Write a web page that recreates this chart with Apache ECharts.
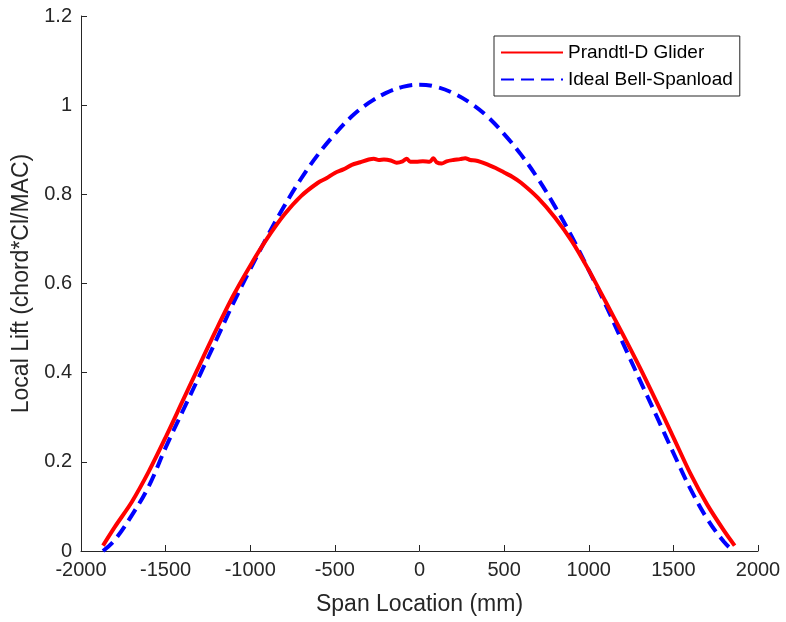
<!DOCTYPE html>
<html>
<head>
<meta charset="utf-8">
<script src="https://cdn.jsdelivr.net/npm/echarts@6/dist/echarts.min.js"></script>
<style>html,body{margin:0;padding:0;background:#fff;}#c{width:786px;height:622px;}</style>
</head>
<body>
<div id="c"></div>
<script>
var xTicks = [-2000, -1500, -1000, -500, 0, 500, 1000, 1500, 2000];
var yTicks = [0, 0.2, 0.4, 0.6, 0.8, 1, 1.2];

var prandtlX = [-1870, -1800, -1700, -1600, -1500, -1400, -1300, -1200, -1100, -1000, -900, -800, -700, -600, -550, -500, -450, -400, -350, -300, -270, -240, -210, -170, -135, -100, -76, -55, -20, 20, 60, 82, 101, 131, 160, 200, 240, 270, 300, 330, 360, 400, 450, 500, 550, 600, 700, 800, 900, 1000, 1100, 1200, 1300, 1400, 1500, 1600, 1700, 1800, 1862];
var prandtlY = [0.012, 0.054, 0.11, 0.178, 0.255, 0.336, 0.417, 0.497, 0.573, 0.640, 0.701, 0.754, 0.796, 0.826, 0.836, 0.848, 0.856, 0.866, 0.872, 0.878, 0.880, 0.877, 0.878, 0.876, 0.871, 0.874, 0.880, 0.873, 0.873, 0.874, 0.873, 0.881, 0.872, 0.869, 0.874, 0.877, 0.879, 0.881, 0.877, 0.876, 0.873, 0.867, 0.859, 0.849, 0.839, 0.826, 0.792, 0.748, 0.695, 0.630, 0.559, 0.487, 0.413, 0.335, 0.255, 0.174, 0.104, 0.045, 0.012];

var bellX = [-1870, -1800, -1700, -1600, -1500, -1400, -1300, -1200, -1100, -1000, -900, -800, -700, -600, -500, -400, -300, -200, -100, 0, 100, 200, 300, 400, 500, 600, 700, 800, 900, 1000, 1100, 1200, 1300, 1400, 1500, 1600, 1700, 1800, 1855];
var bellY = [0, 0.025, 0.08, 0.145, 0.232, 0.313, 0.393, 0.474, 0.556, 0.632, 0.705, 0.773, 0.835, 0.889, 0.935, 0.975, 1.005, 1.027, 1.041, 1.046, 1.041, 1.027, 1.005, 0.975, 0.935, 0.889, 0.835, 0.773, 0.705, 0.630, 0.552, 0.468, 0.385, 0.303, 0.220, 0.140, 0.072, 0.020, 0];

function pairs(xs, ys) { return xs.map(function (x, i) { return [x, ys[i]]; }); }

var axisColor = '#262626';
var fontFam = '"Liberation Sans", Arial, Helvetica, sans-serif';

var chart = echarts.init(document.getElementById('c'), null, { renderer: 'canvas' });
chart.setOption({
  backgroundColor: '#ffffff',
  animation: false,
  grid: { left: 81, right: 28, top: 16, bottom: 71, containLabel: false },
  legend: {
    orient: 'vertical',
    left: 494,
    top: 36,
    padding: [7, 7, 7, 6],
    itemGap: 8,
    itemWidth: 62,
    itemHeight: 14,
    borderColor: '#262626',
    borderWidth: 1,
    backgroundColor: '#fff',
    itemStyle: { opacity: 0 },
    textStyle: { fontSize: 19, color: '#000', fontFamily: fontFam },
    data: ['Prandtl-D Glider', 'Ideal Bell-Spanload']
  },
  xAxis: {
    type: 'value',
    min: -2000, max: 2000, interval: 500,
    name: 'Span Location (mm)',
    nameLocation: 'middle',
    nameGap: 42,
    nameTextStyle: { fontSize: 23, color: axisColor, fontFamily: fontFam },
    axisLine: { show: true, onZero: false, lineStyle: { color: axisColor, width: 1 } },
    axisTick: { show: true, inside: true, length: 6, lineStyle: { color: axisColor } },
    axisLabel: { fontSize: 20, color: axisColor, fontFamily: fontFam, margin: 9,
      formatter: function (v) { return xTicks.indexOf(v) >= 0 ? String(v) : ''; } },
    splitLine: { show: false }
  },
  yAxis: {
    type: 'value',
    min: 0, max: 1.2, interval: 0.2,
    name: 'Local Lift (chord*Cl/MAC)',
    nameLocation: 'middle',
    nameGap: 48,
    nameRotate: 90,
    nameTextStyle: { fontSize: 23, color: axisColor, fontFamily: fontFam },
    axisLine: { show: true, onZero: false, lineStyle: { color: axisColor, width: 1 } },
    axisTick: { show: true, inside: true, length: 6, lineStyle: { color: axisColor } },
    axisLabel: { fontSize: 20, color: axisColor, fontFamily: fontFam, margin: 9,
      formatter: function (v) {
        var r = Math.round(v * 10) / 10;
        for (var i = 0; i < yTicks.length; i++) { if (Math.abs(yTicks[i] - r) < 1e-9) return String(yTicks[i]); }
        return '';
      } },
    splitLine: { show: false }
  },
  series: [
    {
      name: 'Prandtl-D Glider',
      type: 'line',
      data: pairs(prandtlX, prandtlY),
      symbol: 'none',
      smooth: 0.3,
      itemStyle: { color: '#ff0000' },
      lineStyle: { color: '#ff0000', width: 4 },
      z: 3
    },
    {
      name: 'Ideal Bell-Spanload',
      type: 'line',
      data: pairs(bellX, bellY),
      symbol: 'none',
      smooth: 0.4,
      itemStyle: { color: '#0000ff' },
      lineStyle: { color: '#0000ff', width: 4, type: [13, 7] },
      z: 2
    }
  ]
});
</script>
</body>
</html>
